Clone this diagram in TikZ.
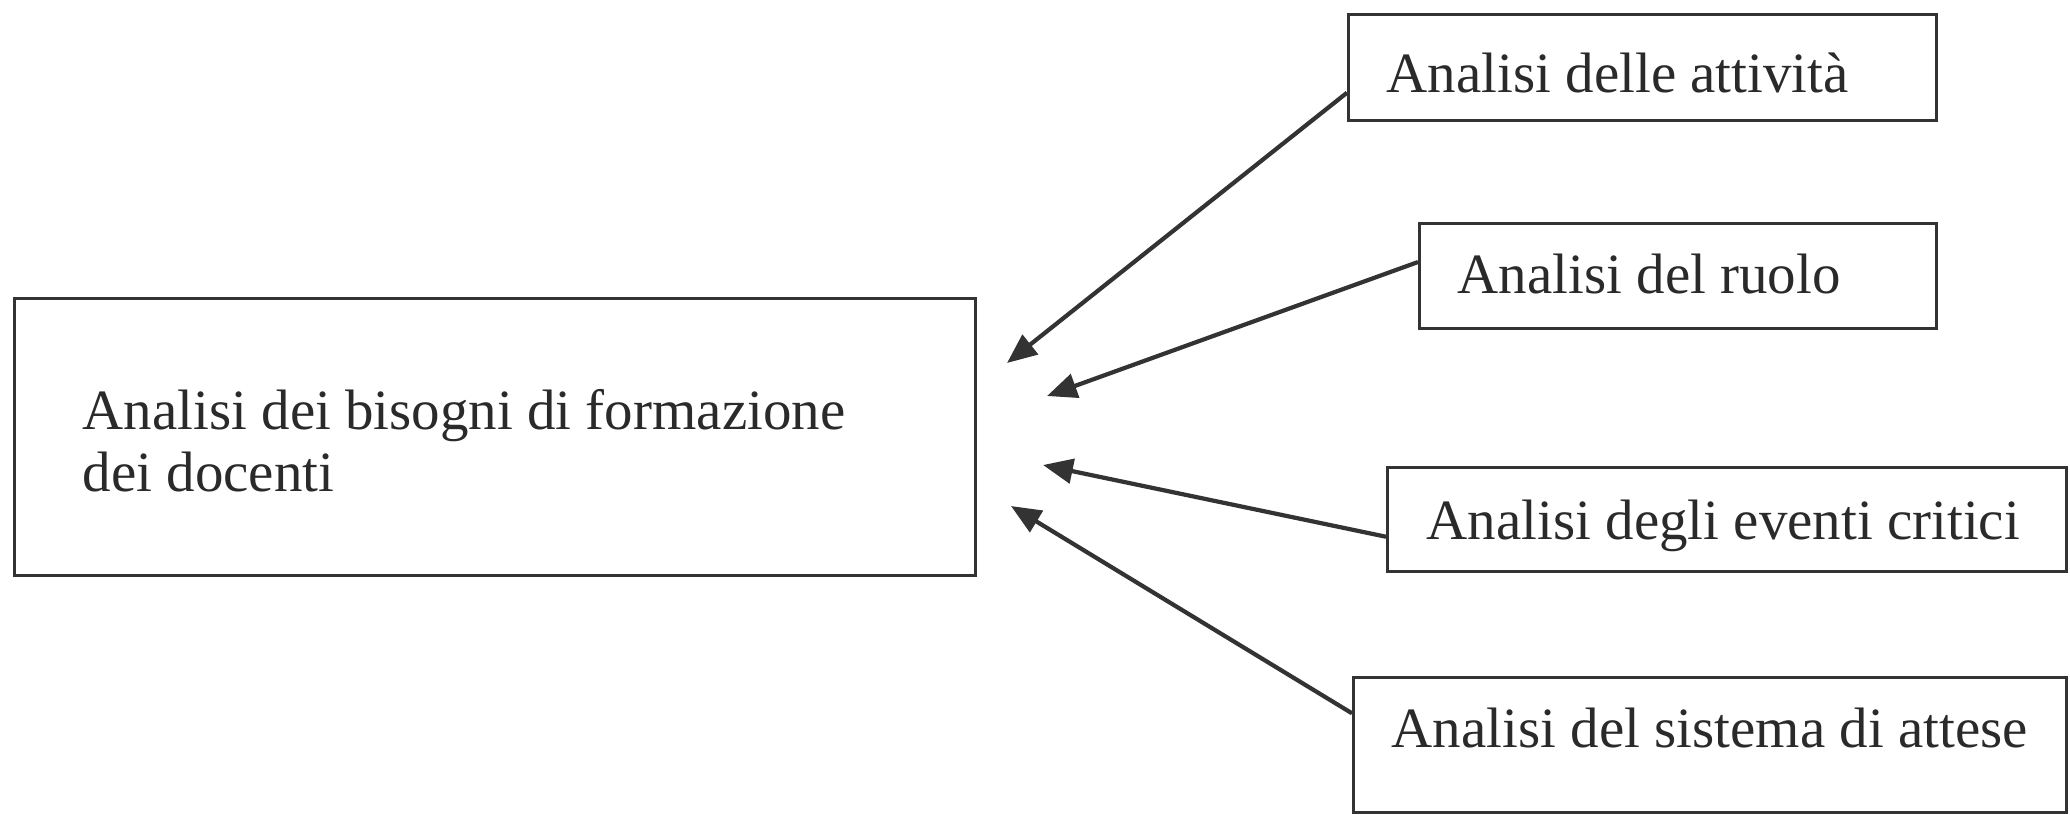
\documentclass[tikz,border=0pt]{standalone}
\usepackage{fontspec}
\setmainfont{Liberation Serif}
\usetikzlibrary{arrows.meta,calc}
\definecolor{ink}{HTML}{333333}
\definecolor{txt}{HTML}{2A2A2A}
\tikzset{
  boxstyle/.style={draw=ink, line width=0.9pt, rectangle, inner sep=0pt, anchor=north west},
  labelstyle/.style={anchor=base west, inner sep=0pt, text=txt, font=\fontsize{16.2}{17.6}\selectfont},
  arrowstyle/.style={draw=ink, line width=1.2pt, -{Triangle[length=8.5pt,width=7pt]}}
}
\begin{document}
\begin{tikzpicture}[x=0.01cm,y=-0.01cm]
\useasboundingbox (0,0) rectangle (2070,814);
% main box
\node[boxstyle, minimum width=961*0.01cm, minimum height=277*0.01cm] (main) at (13,297) {};
\node[labelstyle] (mainA) at (82,429) {Analisi dei bisogni di formazione};
\node[labelstyle] (mainB) at (82,491) {dei docenti};
% right boxes
\node[boxstyle, minimum width=588*0.01cm, minimum height=106*0.01cm] (b1) at (1347,13) {};
\node[labelstyle] (t1) at (1386,92) {Analisi delle attività};
\node[boxstyle, minimum width=517*0.01cm, minimum height=105*0.01cm] (b2) at (1418,222) {};
\node[labelstyle] (t2) at (1457,293) {Analisi del ruolo};
\node[boxstyle, minimum width=679*0.01cm, minimum height=104*0.01cm] (b3) at (1386,466) {};
\node[labelstyle] (t3) at (1426,539) {Analisi degli eventi critici};
\node[boxstyle, minimum width=713*0.01cm, minimum height=135*0.01cm] (b4) at (1352,676) {};
\node[labelstyle] (t4) at (1391,747) {Analisi del sistema di attese};
% arrow start points on left edges
\coordinate (s1) at ($(b1.north west)!0.73!(b1.south west)$);
\coordinate (s2) at ($(b2.north west)!0.37!(b2.south west)$);
\coordinate (s3) at ($(b3.north west)!0.66!(b3.south west)$);
\coordinate (s4) at ($(b4.north west)!0.27!(b4.south west)$);
% free arrow tips
\coordinate (e1) at (1007,363);
\coordinate (e2) at (1047,396);
\coordinate (e3) at (1043,465);
\coordinate (e4) at (1011,506);
\draw[arrowstyle] (s1) -- (e1);
\draw[arrowstyle] (s2) -- (e2);
\draw[arrowstyle] (s3) -- (e3);
\draw[arrowstyle] (s4) -- (e4);
\end{tikzpicture}
\end{document}
